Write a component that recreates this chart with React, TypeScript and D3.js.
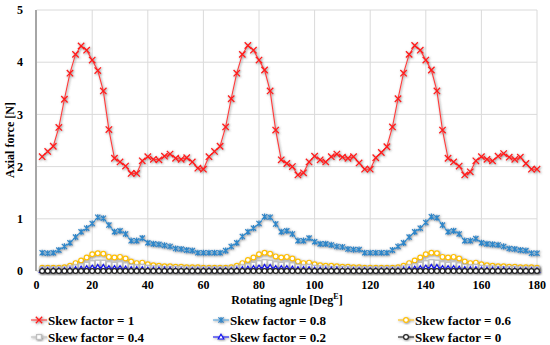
import React from 'react';
import * as d3 from 'd3';

// rotating angle, every 2 degrees
const angles: number[] = d3.range(2, 181, 2);

const sf10 = [
  2.19, 2.29, 2.39, 2.75, 3.29, 3.79, 4.15, 4.31, 4.23, 4.04, 3.84, 3.45, 2.71, 2.16, 2.09, 2.01, 1.87, 1.87, 2.11, 2.19, 2.14, 2.13, 2.20, 2.24, 2.16, 2.14, 2.17, 2.09, 1.97, 1.95,
  2.19, 2.29, 2.39, 2.76, 3.30, 3.79, 4.15, 4.32, 4.23, 4.04, 3.85, 3.45, 2.70, 2.13, 2.06, 2.00, 1.84, 1.88, 2.09, 2.20, 2.13, 2.09, 2.19, 2.24, 2.18, 2.16, 2.19, 2.07, 1.95, 1.95,
  2.17, 2.27, 2.38, 2.76, 3.30, 3.79, 4.15, 4.32, 4.23, 4.04, 3.85, 3.45, 2.70, 2.16, 2.09, 2.01, 1.84, 1.90, 2.11, 2.19, 2.14, 2.11, 2.20, 2.25, 2.18, 2.14, 2.18, 2.06, 1.95, 1.95,
];
const sf08 = [
  0.35, 0.34, 0.35, 0.40, 0.47, 0.54, 0.65, 0.75, 0.82, 0.91, 1.03, 1.01, 0.88, 0.75, 0.77, 0.71, 0.58, 0.58, 0.63, 0.54, 0.52, 0.51, 0.49, 0.47, 0.43, 0.42, 0.40, 0.39, 0.35, 0.35,
  0.35, 0.35, 0.35, 0.39, 0.47, 0.54, 0.66, 0.75, 0.82, 0.91, 1.04, 1.03, 0.90, 0.75, 0.77, 0.71, 0.58, 0.58, 0.63, 0.56, 0.52, 0.52, 0.50, 0.47, 0.46, 0.42, 0.41, 0.41, 0.35, 0.35,
  0.35, 0.35, 0.35, 0.40, 0.47, 0.54, 0.65, 0.75, 0.82, 0.93, 1.04, 1.02, 0.88, 0.75, 0.77, 0.71, 0.58, 0.58, 0.62, 0.54, 0.52, 0.51, 0.50, 0.47, 0.43, 0.42, 0.40, 0.39, 0.34, 0.34,
];
const sf06 = [
  0.06, 0.06, 0.06, 0.06, 0.07, 0.10, 0.15, 0.20, 0.26, 0.32, 0.34, 0.33, 0.27, 0.26, 0.27, 0.24, 0.18, 0.15, 0.16, 0.13, 0.11, 0.10, 0.09, 0.09, 0.08, 0.08, 0.07, 0.07, 0.07, 0.06,
  0.06, 0.06, 0.06, 0.06, 0.07, 0.10, 0.15, 0.21, 0.26, 0.32, 0.35, 0.33, 0.28, 0.26, 0.27, 0.24, 0.18, 0.15, 0.16, 0.13, 0.11, 0.10, 0.10, 0.09, 0.08, 0.08, 0.07, 0.07, 0.06, 0.06,
  0.06, 0.06, 0.06, 0.06, 0.07, 0.10, 0.15, 0.20, 0.26, 0.32, 0.35, 0.34, 0.27, 0.26, 0.27, 0.24, 0.18, 0.15, 0.16, 0.13, 0.11, 0.10, 0.09, 0.09, 0.08, 0.08, 0.07, 0.07, 0.07, 0.06,
];
const sf04 = [
  0.03, 0.03, 0.03, 0.03, 0.03, 0.05, 0.07, 0.09, 0.12, 0.15, 0.16, 0.16, 0.13, 0.12, 0.13, 0.11, 0.08, 0.07, 0.08, 0.06, 0.05, 0.05, 0.04, 0.04, 0.04, 0.04, 0.03, 0.03, 0.03, 0.03,
  0.03, 0.03, 0.03, 0.03, 0.03, 0.05, 0.07, 0.09, 0.12, 0.15, 0.17, 0.16, 0.13, 0.12, 0.13, 0.11, 0.08, 0.07, 0.08, 0.06, 0.05, 0.05, 0.04, 0.04, 0.04, 0.04, 0.03, 0.03, 0.03, 0.03,
  0.03, 0.03, 0.03, 0.03, 0.03, 0.05, 0.07, 0.09, 0.12, 0.15, 0.17, 0.16, 0.13, 0.12, 0.13, 0.11, 0.08, 0.07, 0.08, 0.06, 0.05, 0.05, 0.04, 0.04, 0.04, 0.04, 0.03, 0.03, 0.03, 0.03,
];
const sf02 = [
  0.01, 0.01, 0.01, 0.01, 0.01, 0.02, 0.03, 0.04, 0.05, 0.06, 0.07, 0.07, 0.05, 0.05, 0.05, 0.04, 0.03, 0.03, 0.03, 0.02, 0.02, 0.02, 0.02, 0.02, 0.01, 0.01, 0.01, 0.01, 0.01, 0.01,
  0.01, 0.01, 0.01, 0.01, 0.01, 0.02, 0.03, 0.04, 0.05, 0.06, 0.07, 0.07, 0.05, 0.05, 0.05, 0.04, 0.03, 0.03, 0.03, 0.02, 0.02, 0.02, 0.02, 0.02, 0.01, 0.01, 0.01, 0.01, 0.01, 0.01,
  0.01, 0.01, 0.01, 0.01, 0.01, 0.02, 0.03, 0.04, 0.05, 0.06, 0.07, 0.07, 0.05, 0.05, 0.05, 0.04, 0.03, 0.03, 0.03, 0.02, 0.02, 0.02, 0.02, 0.02, 0.01, 0.01, 0.01, 0.01, 0.01, 0.01,
];
const sf00 = [
  0, 0, 0, 0, 0, 0, 0, 0, 0, 0, 0, 0, 0, 0, 0, 0, 0, 0, 0, 0, 0, 0, 0, 0, 0, 0, 0, 0, 0, 0,
  0, 0, 0, 0, 0, 0, 0, 0, 0, 0, 0, 0, 0, 0, 0, 0, 0, 0, 0, 0, 0, 0, 0, 0, 0, 0, 0, 0, 0, 0,
  0, 0, 0, 0, 0, 0, 0, 0, 0, 0, 0, 0, 0, 0, 0, 0, 0, 0, 0, 0, 0, 0, 0, 0, 0, 0, 0, 0, 0, 0,
];

const xTicks = [0, 20, 40, 60, 80, 100, 120, 140, 160, 180];
const yTicks = [0, 1, 2, 3, 4, 5];

type Mk = 'x' | 'star' | 'circle' | 'square' | 'tri';
const series: { name: string; values: number[]; color: string; mk: Mk; mkStroke: string }[] = [
  { name: 'Skew factor = 1', values: sf10, color: '#FF3B3B', mk: 'x', mkStroke: '#FF1A1A' },
  { name: 'Skew factor = 0.8', values: sf08, color: '#5AA7DC', mk: 'star', mkStroke: '#2F86C8' },
  { name: 'Skew factor = 0.6', values: sf06, color: '#FFC000', mk: 'circle', mkStroke: '#FFC000' },
  { name: 'Skew factor = 0.4', values: sf04, color: '#BFBFBF', mk: 'square', mkStroke: '#BFBFBF' },
  { name: 'Skew factor = 0.2', values: sf02, color: '#1010F0', mk: 'tri', mkStroke: '#1010F0' },
  { name: 'Skew factor = 0', values: sf00, color: '#222222', mk: 'circle', mkStroke: '#222222' },
];

const txt: React.CSSProperties = { fontFamily: 'Liberation Serif', fontWeight: 700 };

const Marker: React.FC<{ kind: Mk; cx: number; cy: number; stroke: string }> = ({ kind, cx, cy, stroke }) => {
  if (kind === 'x') {
    const s = 3.2;
    return (
      <path d={`M${cx - s},${cy - s}L${cx + s},${cy + s}M${cx - s},${cy + s}L${cx + s},${cy - s}`} stroke={stroke} strokeWidth={1.3} fill="none" />
    );
  }
  if (kind === 'star') {
    const s = 2.6;
    return (
      <path d={`M${cx - s},${cy - s}L${cx + s},${cy + s}M${cx - s},${cy + s}L${cx + s},${cy - s}M${cx},${cy - s - 0.5}L${cx},${cy + s + 0.5}`} stroke={stroke} strokeWidth={1.2} fill="none" />
    );
  }
  if (kind === 'circle') {
    return <circle cx={cx} cy={cy} r={2.4} fill="#fff" stroke={stroke} strokeWidth={1.2} />;
  }
  if (kind === 'square') {
    return <rect x={cx - 2.4} y={cy - 2.4} width={4.8} height={4.8} fill="#fff" stroke={stroke} strokeWidth={1.2} />;
  }
  return <path d={`M${cx},${cy - 2.8}L${cx + 2.8},${cy + 2}L${cx - 2.8},${cy + 2}Z`} fill="#fff" stroke={stroke} strokeWidth={1.2} />;
};

const App: React.FC = () => {
  const x = d3.scaleLinear().domain([0, 180]).range([36.6, 537]);
  const y = d3.scaleLinear().domain([0, 5]).range([271, 10]);
  const line = d3.line<number>()
    .x((_, i) => x(angles[i]))
    .y(d => y(d));

  const legendCols = [31, 213, 398];
  const legendRows = [320, 337];

  return (
    <div style={{ position: 'absolute', left: 0, top: 0 }}>
      <svg width={550} height={345} style={{ display: 'block', background: '#fff' }}>
        <defs>
          <filter id="shadow" x="-50%" y="-50%" width="200%" height="200%">
            <feDropShadow dx="0.8" dy="0.8" stdDeviation="0.9" floodColor="#555" floodOpacity="0.7" />
          </filter>
        </defs>

        {/* grid */}
        {yTicks.filter(t => t > 0).map(t => (
          <line key={'gy' + t} x1={x(0)} x2={x(180)} y1={y(t)} y2={y(t)} stroke="#DADADA" strokeWidth={1} />
        ))}
        {xTicks.filter(t => t > 0).map(t => (
          <line key={'gx' + t} x1={x(t)} x2={x(t)} y1={y(5)} y2={y(0)} stroke="#DADADA" strokeWidth={1} />
        ))}
        <line x1={x(0)} x2={x(180)} y1={y(0)} y2={y(0)} stroke="#BFBFBF" strokeWidth={1} />
        <line x1={x(0) - 0.6} x2={x(0) - 0.6} y1={y(5)} y2={y(0)} stroke="#A6A6A6" strokeWidth={2} />

        {/* series */}
        {series.map(s => (
          <g key={s.name} filter="url(#shadow)">
            <path d={line(s.values) || ''} fill="none" stroke={s.color} strokeWidth={1.1} />
            {s.values.map((v, i) => (
              <Marker key={i} kind={s.mk} cx={x(angles[i])} cy={y(v)} stroke={s.mkStroke} />
            ))}
          </g>
        ))}

        {/* tick labels */}
        {yTicks.map(t => (
          <text key={'ty' + t} x={23} y={y(t)} dy="0.35em" textAnchor="end" style={{ ...txt, fontSize: 12 }}>{t}</text>
        ))}
        {xTicks.map(t => (
          <text key={'tx' + t} x={x(t)} y={285} dy="0.35em" textAnchor="middle" style={{ ...txt, fontSize: 12 }}>{t}</text>
        ))}

        {/* axis titles */}
        <text x={287} y={304} textAnchor="middle" style={{ ...txt, fontSize: 12 }}>
          Rotating agnle [Deg<tspan dy={-5} style={{ fontSize: 8 }}>E</tspan><tspan dy={5}>]</tspan>
        </text>
        <text transform="translate(10,140) rotate(-90)" textAnchor="middle" dy="0.35em" style={{ ...txt, fontSize: 12 }}>
          Axial force [N]
        </text>

        {/* legend */}
        {series.map((s, i) => {
          const lx = legendCols[i % 3];
          const ly = legendRows[Math.floor(i / 3)];
          return (
            <g key={'lg' + i}>
              <g filter="url(#shadow)">
                <line x1={lx} x2={lx + 16} y1={ly} y2={ly} stroke={s.color} strokeWidth={1.1} />
                <Marker kind={s.mk} cx={lx + 8} cy={ly} stroke={s.mkStroke} />
              </g>
              <text x={lx + 17} y={ly} dy="0.35em" style={{ ...txt, fontSize: 13 }}>{s.name}</text>
            </g>
          );
        })}
      </svg>
    </div>
  );
};

export default App;
